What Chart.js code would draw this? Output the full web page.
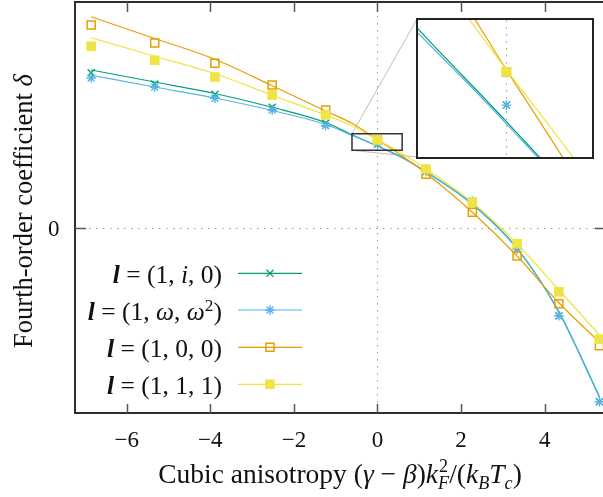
<!DOCTYPE html>
<html>
<head>
<meta charset="utf-8">
<script src="https://cdn.jsdelivr.net/npm/chart.js@4.4.1/dist/chart.umd.min.js"></script>
<style>
  html, body { margin: 0; padding: 0; background: #fff; overflow: hidden; }
  #wrap { position: relative; width: 603px; height: 497px; overflow: hidden; }
  #main { position: absolute; left: 0; top: 0; }
  #zoombox { position: absolute; left: 416px; top: 18px; width: 174px; height: 137px;
             border: 2px solid #222; background: #fff; }
  #zoom { position: absolute; left: 0; top: 0; }
  .serif { font-family: "Liberation Serif", "DejaVu Serif", serif; color: #111; }
  #xtitle { position: absolute; left: 75px; width: 530px; top: 458px; text-align: center;
            font-size: 27.5px; line-height: 30px; white-space: nowrap; }
  #ytitle { position: absolute; left: -177px; top: 196px; width: 400px; height: 30px;
            text-align: center; font-size: 26.5px; line-height: 30px; white-space: nowrap;
            transform: rotate(-90deg); }
  .key { position: absolute; right: 381px; font-size: 25.5px; line-height: 30px; white-space: nowrap; }
  .key sup { font-size: 0.68em; vertical-align: 0.5em; line-height: 0; }
  .ss { display: inline-block; vertical-align: -0.32em; font-size: 0.66em; line-height: 0.95; }
  .ss span { display: block; }
  sub { font-size: 0.66em; vertical-align: -0.3em; line-height: 0; }
</style>
</head>
<body>
<div id="wrap">
  <canvas id="main" width="610" height="497"></canvas>
  <div id="zoombox"><canvas id="zoom" width="174" height="137"></canvas></div>

  <div id="ytitle" class="serif">Fourth-order coefficient <i>δ</i></div>
  <div id="xtitle" class="serif">Cubic anisotropy (<i>γ</i> − <i>β</i>)<i>k</i><span class="ss"><span>2</span><span><i>F</i></span></span>/(<i>k</i><sub><i>B</i></sub><i>T</i><sub><i>c</i></sub>)</div>

  <div class="key serif" id="key0"><b><i>l</i></b> = (1, <i>i</i>, 0)</div>
  <div class="key serif" id="key1"><b><i>l</i></b> = (1, <i>ω</i>, <i>ω</i><sup>2</sup>)</div>
  <div class="key serif" id="key2"><b><i>l</i></b> = (1, 0, 0)</div>
  <div class="key serif" id="key3"><b><i>l</i></b> = (1, 1, 1)</div>
</div>

<script>
// anisotropy values where delta was computed
const xs = [-6.85, -5.33, -3.89, -2.52, -1.24, 0, 1.16, 2.27, 3.34, 4.34, 5.31];

// computed delta for each direction l
const deltaI0    = [0.622, 0.577, 0.536, 0.484, 0.420, 0.337, 0.227, 0.109, -0.083, -0.350, -0.694];
const deltaOmega = [0.601, 0.565, 0.520, 0.473, 0.410, 0.337, 0.227, 0.109, -0.083, -0.350, -0.694];
const delta100   = [0.813, 0.741, 0.660, 0.573, 0.473, 0.353, 0.216, 0.064, -0.111, -0.302, -0.470];
const delta111   = [0.728, 0.672, 0.605, 0.533, 0.453, 0.353, 0.237, 0.104, -0.062, -0.254, -0.444];

// fitted curves, sampled a little finer around zero
const fitXs    = [-6.85, -5.33, -3.89, -2.52, -1.24, -0.6, 0, 0.6, 1.16, 2.27, 3.34, 4.34, 5.31];
const fitI0    = [0.633, 0.585, 0.539, 0.484, 0.423, 0.373, 0.329, 0.282, 0.226, 0.097, -0.080, -0.334, -0.674];
const fitOmega = [0.612, 0.565, 0.521, 0.471, 0.415, 0.371, 0.328, 0.281, 0.225, 0.095, -0.082, -0.337, -0.677];
const fit100   = [0.846, 0.759, 0.676, 0.570, 0.469, 0.419, 0.354, 0.288, 0.220, 0.064, -0.111, -0.298, -0.456];
const fit111   = [0.762, 0.688, 0.618, 0.532, 0.453, 0.409, 0.354, 0.298, 0.237, 0.104, -0.063, -0.247, -0.427];

const xTicks = [-6, -4, -2, 0, 2, 4];
const yTicks = [0];
const xRange = [-7.237, 5.467];
const yRange = [-0.739, 0.905];
const zoomX = [-0.61, 0.59];
const zoomY = [0.312, 0.378];

const series = [
  { pts: deltaI0,    fit: fitI0,    color: '#009e73', style: 'crossRot', r: 5,   bw: 1.3, fill: 'transparent' },
  { pts: deltaOmega, fit: fitOmega, color: '#56b4e9', style: 'star',     r: 4.8, bw: 1.4, fill: 'transparent' },
  { pts: delta100,   fit: fit100,   color: '#e69f00', style: 'rect',     r: 5.7, bw: 1.5, fill: 'transparent' },
  { pts: delta111,   fit: fit111,   color: '#f0e442', style: 'rect',     r: 6.8, bw: 0,   fill: '#f0e442' }
];

const legendRows = [273.3, 310, 347.3, 384.3];
const tickFont = '23px "Liberation Serif", "DejaVu Serif", serif';

function toXY(xv, ys) {
  return xv.map((x, i) => ({ x: x, y: ys[i] }));
}

// later series are painted on top (lower order = drawn last)
function buildDatasets() {
  const sets = [];
  const n = series.length;
  series.forEach((s, i) => {
    sets.push({
      data: toXY(fitXs, s.fit),
      order: 2 * (n - i),
      borderColor: s.color,
      borderWidth: 1.2,
      pointRadius: 0,
      fill: false,
      showLine: true,
      cubicInterpolationMode: 'monotone'
    });
    sets.push({
      data: toXY(xs, s.pts),
      order: 2 * (n - i) - 1,
      showLine: false,
      pointStyle: s.style,
      pointRadius: s.r,
      pointBorderWidth: s.bw,
      pointBorderColor: s.color,
      pointBackgroundColor: s.fill
    });
  });
  return sets;
}

// dotted zero axes, gnuplot style
function drawZeroAxes(chart) {
  const { ctx, chartArea: a, scales: { x, y } } = chart;
  ctx.save();
  ctx.strokeStyle = '#9a9a9a';
  ctx.lineWidth = 1;
  ctx.setLineDash([1.5, 5.5]);
  ctx.beginPath();
  if (x.min < 0 && x.max > 0) {
    const x0 = Math.round(x.getPixelForValue(0)) + 0.5;
    ctx.moveTo(x0, a.top);
    ctx.lineTo(x0, a.bottom);
  }
  if (y.min < 0 && y.max > 0) {
    const y0 = Math.round(y.getPixelForValue(0)) + 0.5;
    ctx.moveTo(a.left, y0);
    ctx.lineTo(a.right, y0);
  }
  ctx.stroke();
  ctx.restore();
}

function drawMarker(ctx, s, px, py) {
  ctx.save();
  ctx.strokeStyle = s.color;
  ctx.fillStyle = s.fill;
  ctx.lineWidth = s.bw;
  Chart.helpers.drawPoint(ctx, { pointStyle: s.style, radius: s.r, rotation: 0, borderWidth: s.bw }, px, py);
  ctx.restore();
}

const mainDecor = {
  id: 'mainDecor',
  beforeDatasetsDraw(chart) {
    drawZeroAxes(chart);
    const { ctx, scales: { x, y } } = chart;
    // connectors from the zoom rectangle to the inset
    const bx = x.getPixelForValue(zoomX[0]);
    const by0 = y.getPixelForValue(zoomY[1]);
    const by1 = y.getPixelForValue(zoomY[0]);
    ctx.save();
    ctx.strokeStyle = '#bdbdbd';
    ctx.lineWidth = 1;
    ctx.beginPath();
    ctx.moveTo(bx, by0); ctx.lineTo(417, 19);
    ctx.moveTo(bx, by1); ctx.lineTo(417, 157);
    ctx.stroke();
    ctx.restore();
  },
  afterDatasetsDraw(chart) {
    const { ctx, chartArea: a, scales: { x, y } } = chart;
    ctx.save();
    // zoom rectangle
    const bx0 = x.getPixelForValue(zoomX[0]), bx1 = x.getPixelForValue(zoomX[1]);
    const by0 = y.getPixelForValue(zoomY[1]), by1 = y.getPixelForValue(zoomY[0]);
    ctx.strokeStyle = '#333';
    ctx.lineWidth = 1.5;
    ctx.strokeRect(bx0, by0, bx1 - bx0, by1 - by0);

    // frame
    ctx.strokeStyle = '#2e2e2e';
    ctx.lineWidth = 2;
    ctx.strokeRect(a.left, a.top, a.right - a.left, a.bottom - a.top);

    // inward ticks, mirrored on top and right
    ctx.strokeStyle = '#555';
    ctx.lineWidth = 1.5;
    ctx.beginPath();
    xTicks.forEach(v => {
      const px = Math.round(x.getPixelForValue(v)) + 0.5;
      ctx.moveTo(px, a.bottom); ctx.lineTo(px, a.bottom - 9);
      ctx.moveTo(px, a.top); ctx.lineTo(px, a.top + 10);
    });
    yTicks.forEach(v => {
      const py = Math.round(y.getPixelForValue(v)) + 0.5;
      ctx.moveTo(a.left, py); ctx.lineTo(a.left + 11, py);
      ctx.moveTo(a.right, py); ctx.lineTo(a.right - 11, py);
    });
    ctx.stroke();

    // y tick labels
    ctx.fillStyle = '#111';
    ctx.font = tickFont;
    ctx.textAlign = 'right';
    ctx.textBaseline = 'alphabetic';
    yTicks.forEach(v => {
      ctx.fillText(String(v), a.left - 15.5, y.getPixelForValue(v) + 8);
    });
    ctx.restore();

    // key samples
    series.forEach((s, i) => {
      const ly = legendRows[i];
      ctx.save();
      ctx.strokeStyle = s.color;
      ctx.lineWidth = 1.2;
      ctx.beginPath();
      ctx.moveTo(238, ly); ctx.lineTo(302, ly);
      ctx.stroke();
      ctx.restore();
      drawMarker(ctx, s, 270, ly);
    });
  }
};

const insetDecor = {
  id: 'insetDecor',
  beforeDatasetsDraw(chart) { drawZeroAxes(chart); }
};

Chart.defaults.font.family = '"Liberation Serif", "DejaVu Serif", serif';
Chart.defaults.color = '#111';

new Chart(document.getElementById('main'), {
  type: 'scatter',
  data: { datasets: buildDatasets() },
  options: {
    responsive: false,
    animation: false,
    events: [],
    layout: { autoPadding: false, padding: { top: 2, right: 4, left: 0, bottom: 0 } },
    plugins: { legend: { display: false }, tooltip: { enabled: false } },
    scales: {
      x: {
        type: 'linear',
        min: xRange[0],
        max: xRange[1],
        grid: { display: false, drawTicks: false },
        border: { display: false },
        afterBuildTicks: s => { s.ticks = xTicks.map(v => ({ value: v })); },
        afterFit: s => { s.height = 84; },
        ticks: {
          autoSkip: false,
          maxRotation: 0,
          padding: 14,
          font: { size: 23 },
          color: '#111',
          callback: v => (v < 0 ? '\u2212' + Math.abs(v) : String(v))
        }
      },
      y: {
        type: 'linear',
        min: yRange[0],
        max: yRange[1],
        grid: { display: false, drawTicks: false },
        border: { display: false },
        afterBuildTicks: s => { s.ticks = yTicks.map(v => ({ value: v })); },
        afterFit: s => { s.width = 75; },
        ticks: { display: false }
      }
    }
  },
  plugins: [mainDecor]
});

new Chart(document.getElementById('zoom'), {
  type: 'scatter',
  data: { datasets: buildDatasets() },
  options: {
    responsive: false,
    animation: false,
    events: [],
    layout: { autoPadding: false, padding: 0 },
    plugins: { legend: { display: false }, tooltip: { enabled: false } },
    scales: {
      x: { type: 'linear', display: false, min: zoomX[0], max: zoomX[1] },
      y: { type: 'linear', display: false, min: zoomY[0], max: zoomY[1] }
    }
  },
  plugins: [insetDecor]
});

// key text rows sit on the same rows as the samples
legendRows.forEach((ly, i) => {
  document.getElementById('key' + i).style.top = (ly - 13.4) + 'px';
});
</script>
</body>
</html>
